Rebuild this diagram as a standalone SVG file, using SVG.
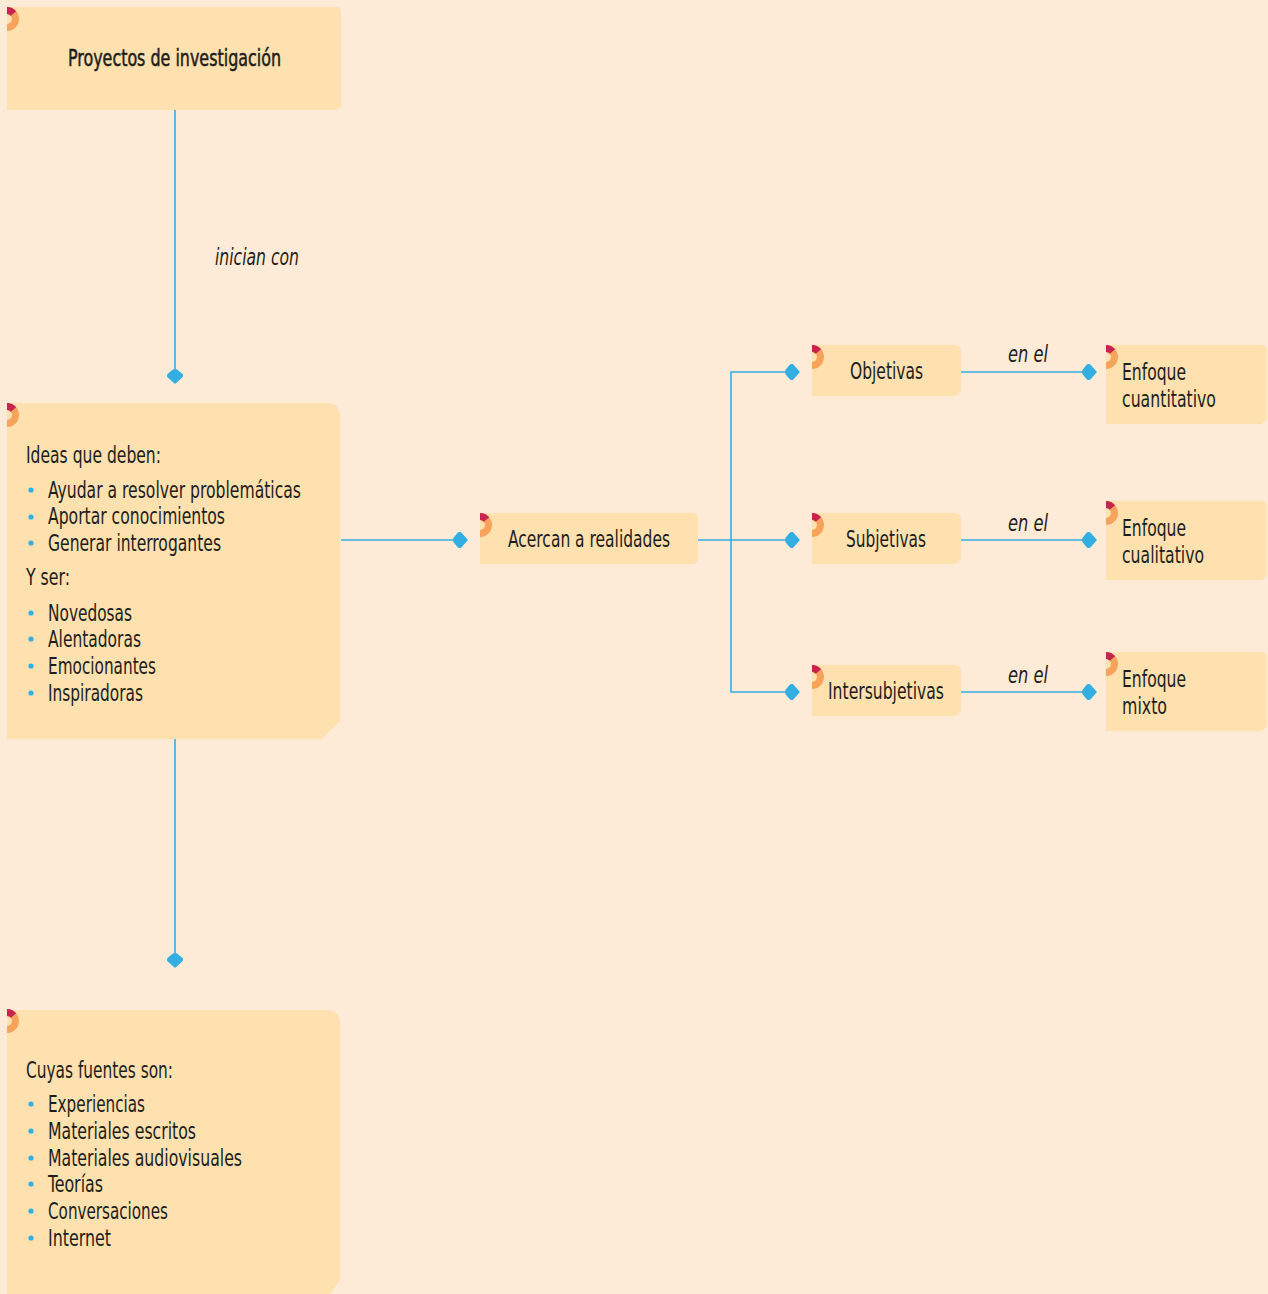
<svg xmlns="http://www.w3.org/2000/svg" xmlns:xlink="http://www.w3.org/1999/xlink" width="1268" height="1294" viewBox="0 0 1268 1294">
<style>
.box{fill:#fee1ae}
.t{font-family:"DejaVu Sans Condensed","DejaVu Sans","Liberation Sans",sans-serif;font-size:23px;fill:#1d1d1b}
.lbl{font-family:"DejaVu Sans Condensed","DejaVu Sans","Liberation Sans",sans-serif;font-size:23px;font-style:italic;fill:#1d1d1b}
.ln{fill:none;stroke:#32aee3;stroke-width:1.6}
.dot{fill:#32aee3}
</style>
<defs>
<marker id="ah" markerUnits="userSpaceOnUse" viewBox="-16 -10 18 20" refX="0" refY="0" markerWidth="18" markerHeight="20" orient="auto">
<path d="M0,0 L-6.5,-7.2 L-8.5,-7 L-13,-1.5 L-13,1.5 L-8.5,7 L-6.5,7.2 Z" fill="#32aee3" stroke="#32aee3" stroke-width="1.6" stroke-linejoin="round"/>
</marker>
<g id="badge">
<path d="M0,-12 A12,12 0 0 1 0,12 L0,5 A5,5 0 0 0 0,-5 Z" fill="#f7a35c"/>
<path d="M0,-12 A12,12 0 0 1 9.19,-7.71 L3.83,-3.21 A5,5 0 0 0 0,-5 Z" fill="#c9234f"/>
</g>
</defs>
<rect width="1268" height="1294" fill="#fdebd8"/>

<g id="connectors">
<path class="ln" d="M175,110 V383" marker-end="url(#ah)"/>
<text class="lbl" x="215" y="265" textLength="84" lengthAdjust="spacingAndGlyphs">inician con</text>
<path class="ln" d="M341,540 H467" marker-end="url(#ah)"/>
<path class="ln" d="M698,540 H799" marker-end="url(#ah)"/>
<path class="ln" d="M731,540 V372 H799" marker-end="url(#ah)"/>
<path class="ln" d="M731,540 V692 H799" marker-end="url(#ah)"/>
<path class="ln" d="M961,372 H1096" marker-end="url(#ah)"/>
<path class="ln" d="M961,540 H1096" marker-end="url(#ah)"/>
<path class="ln" d="M961,692 H1096" marker-end="url(#ah)"/>
<text class="lbl" x="1008" y="362" textLength="40" lengthAdjust="spacingAndGlyphs">en el</text>
<text class="lbl" x="1008" y="531" textLength="40" lengthAdjust="spacingAndGlyphs">en el</text>
<text class="lbl" x="1008" y="683" textLength="40" lengthAdjust="spacingAndGlyphs">en el</text>
<path class="ln" d="M175,739 V967" marker-end="url(#ah)"/>
</g>

<g id="n-proyectos">
<path class="box" d="M7,7 H336 Q341,7 341,12 V106 L337,110 H7 Z"/>
<use xlink:href="#badge" x="7" y="19"/>
<text class="t" x="68" y="66" textLength="213" lengthAdjust="spacingAndGlyphs" stroke="#1d1d1b" stroke-width="0.5">Proyectos de investigación</text>
</g>

<g id="n-ideas">
<path class="box" d="M7,403 H326 Q340,403 340,417 V721 L322,739 H7 Z"/>
<use xlink:href="#badge" x="7" y="415"/>
<text class="t" x="26" y="463" textLength="135" lengthAdjust="spacingAndGlyphs">Ideas que deben:</text>
<circle class="dot" cx="31" cy="490" r="2.6"/><text class="t" x="48" y="498" textLength="253" lengthAdjust="spacingAndGlyphs">Ayudar a resolver problemáticas</text>
<circle class="dot" cx="31" cy="517" r="2.6"/><text class="t" x="48" y="524" textLength="177" lengthAdjust="spacingAndGlyphs">Aportar conocimientos</text>
<circle class="dot" cx="31" cy="543" r="2.6"/><text class="t" x="48" y="551" textLength="173" lengthAdjust="spacingAndGlyphs">Generar interrogantes</text>
<text class="t" x="26" y="585" textLength="44" lengthAdjust="spacingAndGlyphs">Y ser:</text>
<circle class="dot" cx="31" cy="613" r="2.6"/><text class="t" x="48" y="621" textLength="84" lengthAdjust="spacingAndGlyphs">Novedosas</text>
<circle class="dot" cx="31" cy="639" r="2.6"/><text class="t" x="48" y="647" textLength="93" lengthAdjust="spacingAndGlyphs">Alentadoras</text>
<circle class="dot" cx="31" cy="666" r="2.6"/><text class="t" x="48" y="674" textLength="108" lengthAdjust="spacingAndGlyphs">Emocionantes</text>
<circle class="dot" cx="31" cy="693" r="2.6"/><text class="t" x="48" y="701" textLength="95" lengthAdjust="spacingAndGlyphs">Inspiradoras</text>
</g>

<g id="n-fuentes">
<path class="box" d="M7,1010 H326 Q340,1010 340,1024 V1280 L330,1294 H7 Z"/>
<use xlink:href="#badge" x="7" y="1021"/>
<text class="t" x="26" y="1078" textLength="147" lengthAdjust="spacingAndGlyphs">Cuyas fuentes son:</text>
<circle class="dot" cx="31" cy="1104" r="2.6"/><text class="t" x="48" y="1112" textLength="97" lengthAdjust="spacingAndGlyphs">Experiencias</text>
<circle class="dot" cx="31" cy="1131" r="2.6"/><text class="t" x="48" y="1139" textLength="148" lengthAdjust="spacingAndGlyphs">Materiales escritos</text>
<circle class="dot" cx="31" cy="1158" r="2.6"/><text class="t" x="48" y="1166" textLength="194" lengthAdjust="spacingAndGlyphs">Materiales audiovisuales</text>
<circle class="dot" cx="31" cy="1184" r="2.6"/><text class="t" x="48" y="1192" textLength="55" lengthAdjust="spacingAndGlyphs">Teorías</text>
<circle class="dot" cx="31" cy="1211" r="2.6"/><text class="t" x="48" y="1219" textLength="120" lengthAdjust="spacingAndGlyphs">Conversaciones</text>
<circle class="dot" cx="31" cy="1238" r="2.6"/><text class="t" x="48" y="1246" textLength="63" lengthAdjust="spacingAndGlyphs">Internet</text>
</g>

<g id="n-acercan">
<path class="box" d="M480,513 H692 Q698,513 698,519 V560 L694,564 H480 Z"/>
<use xlink:href="#badge" x="480" y="525"/>
<text class="t" x="508" y="547" textLength="162" lengthAdjust="spacingAndGlyphs">Acercan a realidades</text>
</g>

<g id="n-objetivas">
<path class="box" d="M812,345 H955 Q961,345 961,351 V391 L956,396 H812 Z"/>
<use xlink:href="#badge" x="812" y="357"/>
<text class="t" x="850" y="379" textLength="73" lengthAdjust="spacingAndGlyphs">Objetivas</text>
</g>

<g id="n-subjetivas">
<path class="box" d="M812,513 H955 Q961,513 961,519 V559 L956,564 H812 Z"/>
<use xlink:href="#badge" x="812" y="525"/>
<text class="t" x="846" y="547" textLength="80" lengthAdjust="spacingAndGlyphs">Subjetivas</text>
</g>

<g id="n-intersubjetivas">
<path class="box" d="M812,665 H955 Q961,665 961,671 V711 L956,716 H812 Z"/>
<use xlink:href="#badge" x="812" y="677"/>
<text class="t" x="828" y="699" textLength="116" lengthAdjust="spacingAndGlyphs">Intersubjetivas</text>
</g>

<g id="n-cuantitativo">
<path class="box" d="M1106,345 H1261 Q1267,345 1267,351 V419 L1262,424 H1106 Z"/>
<use xlink:href="#badge" x="1106" y="357"/>
<text class="t" x="1122" y="380" textLength="64" lengthAdjust="spacingAndGlyphs">Enfoque</text>
<text class="t" x="1122" y="407" textLength="94" lengthAdjust="spacingAndGlyphs">cuantitativo</text>
</g>

<g id="n-cualitativo">
<path class="box" d="M1106,501 H1261 Q1267,501 1267,507 V575 L1262,580 H1106 Z"/>
<use xlink:href="#badge" x="1106" y="513"/>
<text class="t" x="1122" y="536" textLength="64" lengthAdjust="spacingAndGlyphs">Enfoque</text>
<text class="t" x="1122" y="563" textLength="82" lengthAdjust="spacingAndGlyphs">cualitativo</text>
</g>

<g id="n-mixto">
<path class="box" d="M1106,652 H1261 Q1267,652 1267,658 V726 L1262,731 H1106 Z"/>
<use xlink:href="#badge" x="1106" y="664"/>
<text class="t" x="1122" y="687" textLength="64" lengthAdjust="spacingAndGlyphs">Enfoque</text>
<text class="t" x="1122" y="714" textLength="45" lengthAdjust="spacingAndGlyphs">mixto</text>
</g>
</svg>
